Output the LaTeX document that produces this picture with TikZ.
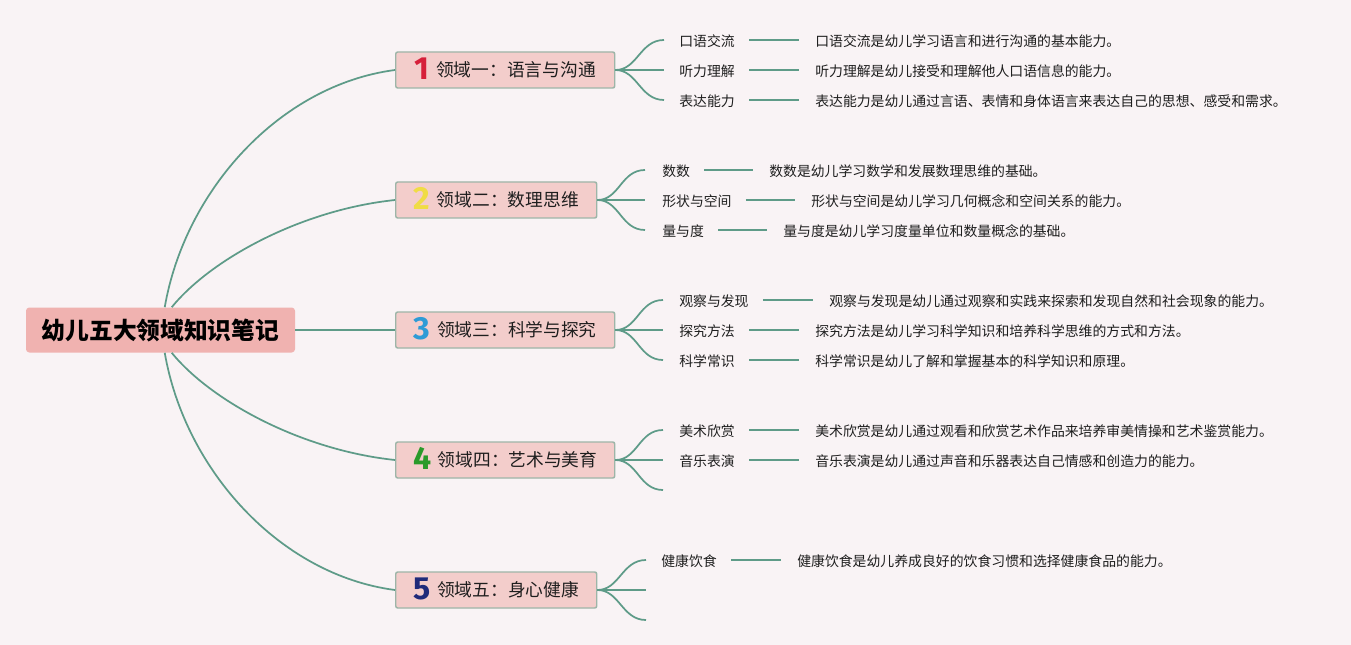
\documentclass[tikz,border=0pt]{standalone}
\usepackage{fontspec}
\setmainfont{Noto Sans CJK SC}
\newfontfamily\digitfont{Fira Sans}
\usetikzlibrary{calc}
\definecolor{bg}{HTML}{F9F3F5}
\definecolor{linkc}{HTML}{5E9B88}
\definecolor{rootfill}{HTML}{F0B2B0}
\definecolor{catfill}{HTML}{F3CDCB}
\definecolor{catdraw}{HTML}{9DB5A8}
\definecolor{txt}{HTML}{1E1E1E}
\definecolor{nA}{HTML}{D6203A}
\definecolor{nB}{HTML}{F0DC45}
\definecolor{nC}{HTML}{2E9BD6}
\definecolor{nD}{HTML}{2A9A2A}
\definecolor{nE}{HTML}{1F2A7A}
\newcommand\catnum[2]{\smash{\raisebox{-2pt}{\digitfont\bfseries\fontsize{24pt}{24pt}\selectfont\color{#1}#2}}\hspace{5pt}}
\tikzset{
  rootbox/.style={fill=rootfill, rounded corners=2.5pt, minimum width=201.75pt, minimum height=33.75pt, inner sep=0pt, text=black, font=\fontsize{17.8pt}{20pt}\selectfont\bfseries},
  catbox/.style={fill=catfill, draw=catdraw, line width=1.1pt, rounded corners=1.5pt, minimum height=27pt, inner sep=0pt, anchor=west, text=txt, font=\fontsize{13.3pt}{16pt}\selectfont},
  wideA/.style={minimum width=164.25pt},
  wideB/.style={minimum width=150.75pt},
  leaf/.style={anchor=west, inner sep=0pt, text=txt, font=\fontsize{10.4pt}{12pt}\selectfont},
  linkline/.style={draw=linkc, line width=1.3pt},
}
\begin{document}
\begin{tikzpicture}[x=0.75pt,y=-0.75pt]
\fill[bg] (0,0) rectangle (1351,645);
\useasboundingbox (0,0) rectangle (1351,645);

% root
\node[rootbox] (root) at (160.5,330) {幼儿五大领域知识笔记};

% categories
\node[catbox,wideA] (c1) at (395,70) {\catnum{nA}{1}领域一：语言与沟通};
\node[catbox,wideB] (c2) at (395,200) {\catnum{nB}{2}领域二：数理思维};
\node[catbox,wideA] (c3) at (395,330) {\catnum{nC}{3}领域三：科学与探究};
\node[catbox,wideA] (c4) at (395,460) {\catnum{nD}{4}领域四：艺术与美育};
\node[catbox,wideB] (c5) at (395,590) {\catnum{nE}{5}领域五：身心健康};

% root connectors
\draw[linkline] ($(root.north west)+(139,0)$) .. controls (185,190) and (280,85) .. (c1.west);
\draw[linkline] ($(root.north west)+(146,0)$) .. controls (210,260) and (300,210) .. (c2.west);
\draw[linkline] (root.east) -- (c3.west);
\draw[linkline] ($(root.south west)+(146,0)$) .. controls (210,400) and (300,450) .. (c4.west);
\draw[linkline] ($(root.south west)+(139,0)$) .. controls (185,470) and (280,575) .. (c5.west);

% fan end coordinates
\coordinate (f11) at (664,40);  \coordinate (f12) at (664,70);  \coordinate (f13) at (664,100);
\coordinate (f21) at (645,170); \coordinate (f22) at (645,200); \coordinate (f23) at (645,230);
\coordinate (f31) at (663,300); \coordinate (f32) at (663,330); \coordinate (f33) at (663,360);
\coordinate (f41) at (663,430); \coordinate (f42) at (663,460); \coordinate (f43) at (663,490);
\coordinate (f51) at (646,560); \coordinate (f52) at (646,590); \coordinate (f53) at (646,620);

\foreach \c/\a/\b/\d in {c1/f11/f12/f13, c2/f21/f22/f23, c3/f31/f32/f33, c4/f41/f42/f43, c5/f51/f52/f53}{
  \draw[linkline] (\c.east) .. controls +(22,0) and +(-24,0) .. (\a);
  \draw[linkline] (\c.east) -- (\b);
  \draw[linkline] (\c.east) .. controls +(22,0) and +(-24,0) .. (\d);
}

% leaves and descriptions
\node[leaf] (k11) at (679,41) {口语交流};
\node[leaf] (d11) at (815,41) {口语交流是幼儿学习语言和进行沟通的基本能力。};
\node[leaf] (k12) at (679,71) {听力理解};
\node[leaf] (d12) at (815,71) {听力理解是幼儿接受和理解他人口语信息的能力。};
\node[leaf] (k13) at (679,101) {表达能力};
\node[leaf] (d13) at (815,101) {表达能力是幼儿通过言语、表情和身体语言来表达自己的思想、感受和需求。};

\node[leaf] (k21) at (662,171) {数数};
\node[leaf] (d21) at (769,171) {数数是幼儿学习数学和发展数理思维的基础。};
\node[leaf] (k22) at (662,201) {形状与空间};
\node[leaf] (d22) at (811,201) {形状与空间是幼儿学习几何概念和空间关系的能力。};
\node[leaf] (k23) at (662,231) {量与度};
\node[leaf] (d23) at (783,231) {量与度是幼儿学习度量单位和数量概念的基础。};

\node[leaf] (k31) at (679,301) {观察与发现};
\node[leaf] (d31) at (829,301) {观察与发现是幼儿通过观察和实践来探索和发现自然和社会现象的能力。};
\node[leaf] (k32) at (679,331) {探究方法};
\node[leaf] (d32) at (815,331) {探究方法是幼儿学习科学知识和培养科学思维的方式和方法。};
\node[leaf] (k33) at (679,361) {科学常识};
\node[leaf] (d33) at (815,361) {科学常识是幼儿了解和掌握基本的科学知识和原理。};

\node[leaf] (k41) at (679,431) {美术欣赏};
\node[leaf] (d41) at (815,431) {美术欣赏是幼儿通过观看和欣赏艺术作品来培养审美情操和艺术鉴赏能力。};
\node[leaf] (k42) at (679,461) {音乐表演};
\node[leaf] (d42) at (815,461) {音乐表演是幼儿通过声音和乐器表达自己情感和创造力的能力。};

\node[leaf] (k51) at (661,561) {健康饮食};
\node[leaf] (d51) at (797,561) {健康饮食是幼儿养成良好的饮食习惯和选择健康食品的能力。};

% short connectors
\foreach \k/\d in {k11/d11,k12/d12,k13/d13,k21/d21,k22/d22,k23/d23,k31/d31,k32/d32,k33/d33,k41/d41,k42/d42,k51/d51}{
  \draw[linkline] ($(\k.east)+(14,-1)$) -- ($(\d.west)+(-16,-1)$);
}
\end{tikzpicture}
\end{document}
